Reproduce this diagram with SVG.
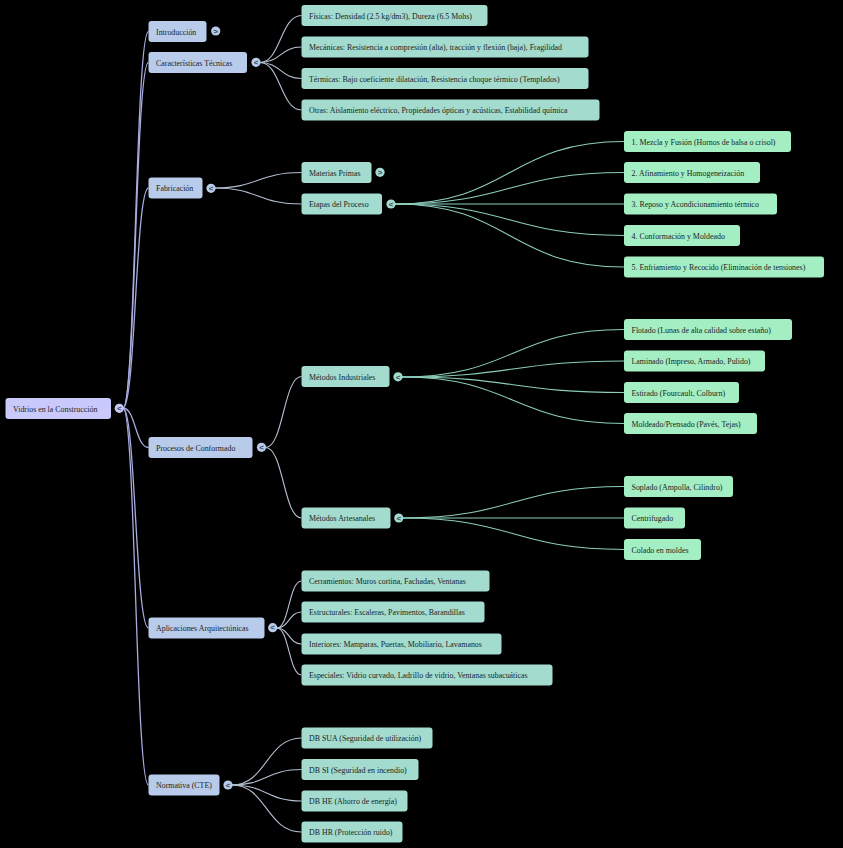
<svg xmlns="http://www.w3.org/2000/svg" width="843" height="848" viewBox="0 0 843 848">
<style>
.bg{fill:#000}
rect.r0{fill:#c9c9fb}
rect.r1{fill:#b9cbea}
rect.r2{fill:#a3dccf}
rect.r3{fill:#a3efc3}
text{font-family:"Liberation Serif","Times New Roman",serif;font-size:7.9px;fill:#1a2424}
.tg text{font-family:"Liberation Sans",Arial,sans-serif;font-size:8px;font-weight:bold;fill:#3a4a5a;text-anchor:middle}
.l0 path{fill:none;stroke:#a9acdf;stroke-width:1.3}
.l1 path{fill:none;stroke:#b4bfd0;stroke-width:1.1}
.l2 path{fill:none;stroke:#8ccdbb;stroke-width:1.1}
</style>
<rect class="bg" x="0" y="0" width="843" height="848"/>
<g id="connectors">
<g class="l0">
<path d="M123 408 C135.5 408 135.5 31.5 148.5 31.5"/>
<path d="M123 408 C135.5 408 135.5 62.5 148.5 62.5"/>
<path d="M123 408 C135.5 408 135.5 188 148.5 188"/>
<path d="M123 408 C135.5 408 135.5 447.5 148.5 447.5"/>
<path d="M123 408 C135.5 408 135.5 628 148.5 628"/>
<path d="M123 408 C135.5 408 135.5 785 148.5 785"/>
</g>
<g class="l1">
<path d="M260 62.5 C280.5 62.5 280.5 15.5 301.5 15.5"/>
<path d="M260 62.5 C280.5 62.5 280.5 47 301.5 47"/>
<path d="M260 62.5 C280.5 62.5 280.5 78.5 301.5 78.5"/>
<path d="M260 62.5 C280.5 62.5 280.5 110 301.5 110"/>
<path d="M215 188 C258 188 258 172.5 301.5 172.5"/>
<path d="M215 188 C258 188 258 204 301.5 204"/>
<path d="M265.5 447.5 C283.5 447.5 283.5 376.5 301.5 376.5"/>
<path d="M265.5 447.5 C283.5 447.5 283.5 518 301.5 518"/>
<path d="M277 628 C289 628 289 581 301.5 581"/>
<path d="M277 628 C289 628 289 612 301.5 612"/>
<path d="M277 628 C289 628 289 644 301.5 644"/>
<path d="M277 628 C289 628 289 675 301.5 675"/>
<path d="M232 785 C266.5 785 266.5 738 301.5 738"/>
<path d="M232 785 C266.5 785 266.5 769.5 301.5 769.5"/>
<path d="M232 785 C266.5 785 266.5 801 301.5 801"/>
<path d="M232 785 C266.5 785 266.5 832 301.5 832"/>
</g>
<g class="l2">
<path d="M395 204 C509.5 204 509.5 141.5 624 141.5"/>
<path d="M395 204 C509.5 204 509.5 172.5 624 172.5"/>
<path d="M395 204 C509.5 204 509.5 204 624 204"/>
<path d="M395 204 C509.5 204 509.5 235.5 624 235.5"/>
<path d="M395 204 C509.5 204 509.5 267 624 267"/>
<path d="M402 377 C513 377 513 329.5 624 329.5"/>
<path d="M402 377 C513 377 513 361 624 361"/>
<path d="M402 377 C513 377 513 392.5 624 392.5"/>
<path d="M402 377 C513 377 513 423.5 624 423.5"/>
<path d="M403 518 C513.5 518 513.5 486.5 624 486.5"/>
<path d="M403 518 C513.5 518 513.5 518 624 518"/>
<path d="M403 518 C513.5 518 513.5 549.5 624 549.5"/>
</g>
</g>

<g id="root"><rect class="r0" x="5.5" y="398" width="105.5" height="21" rx="3"/><text x="13" y="411.7">Vidrios en la Construcción</text><g class="tg"><circle cx="119.3" cy="408.3" r="4.6" fill="#c9c9fb"/><text x="119.3" y="411">&lt;</text></g></g>

<g id="introduccion"><rect class="r1" x="148.5" y="21" width="58" height="21" rx="3"/><text x="156" y="34.7">Introducción</text><g class="tg"><circle cx="215.7" cy="31" r="4.6" fill="#b9cbea"/><text x="215.7" y="33.7">&gt;</text></g></g>
<g id="caracteristicas"><rect class="r1" x="148.5" y="52" width="98.5" height="21" rx="3"/><text x="156" y="65.7">Características Técnicas</text><g class="tg"><circle cx="256" cy="62.3" r="4.6" fill="#b9cbea"/><text x="256" y="65">&lt;</text></g></g>
<g id="fabricacion"><rect class="r1" x="148.5" y="177.5" width="54" height="21" rx="3"/><text x="156" y="191.2">Fabricación</text><g class="tg"><circle cx="211" cy="188.3" r="4.6" fill="#b9cbea"/><text x="211" y="191">&lt;</text></g></g>
<g id="procesos"><rect class="r1" x="148.5" y="437" width="104" height="21" rx="3"/><text x="156" y="450.7">Procesos de Conformado</text><g class="tg"><circle cx="261.5" cy="447.3" r="4.6" fill="#b9cbea"/><text x="261.5" y="450">&lt;</text></g></g>
<g id="aplicaciones"><rect class="r1" x="148.5" y="617.5" width="116" height="21" rx="3"/><text x="156" y="631.2">Aplicaciones Arquitectónicas</text><g class="tg"><circle cx="272.7" cy="627.7" r="4.6" fill="#b9cbea"/><text x="272.7" y="630.4">&lt;</text></g></g>
<g id="normativa"><rect class="r1" x="148.5" y="774.5" width="71" height="21" rx="3"/><text x="156" y="788.2">Normativa (CTE)</text><g class="tg"><circle cx="228" cy="785" r="4.6" fill="#b9cbea"/><text x="228" y="787.7">&lt;</text></g></g>

<g id="fisicas"><rect class="r2" x="301.5" y="5" width="186" height="21" rx="3"/><text x="309" y="18.7">Físicas: Densidad (2.5 kg/dm3), Dureza (6.5 Mohs)</text></g>
<g id="mecanicas"><rect class="r2" x="301.5" y="36.5" width="287" height="21" rx="3"/><text x="309" y="50.2">Mecánicas: Resistencia a compresión (alta), tracción y flexión (baja), Fragilidad</text></g>
<g id="termicas"><rect class="r2" x="301.5" y="68" width="287" height="21" rx="3"/><text x="309" y="81.7">Térmicas: Bajo coeficiente dilatación, Resistencia choque térmico (Templados)</text></g>
<g id="otras"><rect class="r2" x="301.5" y="99.5" width="298" height="21" rx="3"/><text x="309" y="113.2">Otras: Aislamiento eléctrico, Propiedades ópticas y acústicas, Estabilidad química</text></g>
<g id="materias"><rect class="r2" x="301.5" y="162" width="70" height="21" rx="3"/><text x="309" y="175.7">Materias Primas</text><g class="tg"><circle cx="380" cy="172.3" r="4.6" fill="#a3dccf"/><text x="380" y="175">&gt;</text></g></g>
<g id="etapas"><rect class="r2" x="301.5" y="193.5" width="80.5" height="21" rx="3"/><text x="309" y="207.2">Etapas del Proceso</text><g class="tg"><circle cx="391" cy="204" r="4.6" fill="#a3dccf"/><text x="391" y="206.7">&lt;</text></g></g>
<g id="industriales"><rect class="r2" x="301.5" y="366" width="88" height="21" rx="3"/><text x="309" y="379.7">Métodos Industriales</text><g class="tg"><circle cx="398" cy="376.8" r="4.6" fill="#a3dccf"/><text x="398" y="379.5">&lt;</text></g></g>
<g id="artesanales"><rect class="r2" x="301.5" y="507.5" width="89" height="21" rx="3"/><text x="309" y="521.2">Métodos Artesanales</text><g class="tg"><circle cx="398.8" cy="518" r="4.6" fill="#a3dccf"/><text x="398.8" y="520.7">&lt;</text></g></g>
<g id="cerramientos"><rect class="r2" x="301.5" y="570.5" width="188" height="21" rx="3"/><text x="309" y="584.2">Cerramientos: Muros cortina, Fachadas, Ventanas</text></g>
<g id="estructurales"><rect class="r2" x="301.5" y="601.5" width="183" height="21" rx="3"/><text x="309" y="615.2">Estructurales: Escaleras, Pavimentos, Barandillas</text></g>
<g id="interiores"><rect class="r2" x="301.5" y="633.5" width="200" height="21" rx="3"/><text x="309" y="647.2">Interiores: Mamparas, Puertas, Mobiliario, Lavamanos</text></g>
<g id="especiales"><rect class="r2" x="301.5" y="664.5" width="251" height="21" rx="3"/><text x="309" y="678.2">Especiales: Vidrio curvado, Ladrillo de vidrio, Ventanas subacuáticas</text></g>
<g id="dbsua"><rect class="r2" x="301.5" y="727.5" width="131" height="21" rx="3"/><text x="309" y="741.2">DB SUA (Seguridad de utilización)</text></g>
<g id="dbsi"><rect class="r2" x="301.5" y="759" width="117" height="21" rx="3"/><text x="309" y="772.7">DB SI (Seguridad en incendio)</text></g>
<g id="dbhe"><rect class="r2" x="301.5" y="790.5" width="106" height="21" rx="3"/><text x="309" y="804.2">DB HE (Ahorro de energía)</text></g>
<g id="dbhr"><rect class="r2" x="301.5" y="821.5" width="101" height="21" rx="3"/><text x="309" y="835.2">DB HR (Protección ruido)</text></g>

<g id="etapa1"><rect class="r3" x="624" y="131" width="167" height="21" rx="3"/><text x="631.5" y="144.7">1. Mezcla y Fusión (Hornos de balsa o crisol)</text></g>
<g id="etapa2"><rect class="r3" x="624" y="162" width="136" height="21" rx="3"/><text x="631.5" y="175.7">2. Afinamiento y Homogeneización</text></g>
<g id="etapa3"><rect class="r3" x="624" y="193.5" width="153" height="21" rx="3"/><text x="631.5" y="207.2">3. Reposo y Acondicionamiento térmico</text></g>
<g id="etapa4"><rect class="r3" x="624" y="225" width="116" height="21" rx="3"/><text x="631.5" y="238.7">4. Conformación y Moldeado</text></g>
<g id="etapa5"><rect class="r3" x="624" y="256.5" width="200" height="21" rx="3"/><text x="631.5" y="270.2">5. Enfriamiento y Recocido (Eliminación de tensiones)</text></g>
<g id="flotado"><rect class="r3" x="624" y="319" width="168" height="21" rx="3"/><text x="631.5" y="332.7">Flotado (Lunas de alta calidad sobre estaño)</text></g>
<g id="laminado"><rect class="r3" x="624" y="350.5" width="141" height="21" rx="3"/><text x="631.5" y="364.2">Laminado (Impreso, Armado, Pulido)</text></g>
<g id="estirado"><rect class="r3" x="624" y="382" width="115" height="21" rx="3"/><text x="631.5" y="395.7">Estirado (Fourcault, Colburn)</text></g>
<g id="moldeado"><rect class="r3" x="624" y="413" width="133" height="21" rx="3"/><text x="631.5" y="426.7">Moldeado/Prensado (Pavés, Tejas)</text></g>
<g id="soplado"><rect class="r3" x="624" y="476" width="109" height="21" rx="3"/><text x="631.5" y="489.7">Soplado (Ampolla, Cilindro)</text></g>
<g id="centrifugado"><rect class="r3" x="624" y="507.5" width="61" height="21" rx="3"/><text x="631.5" y="521.2">Centrifugado</text></g>
<g id="colado"><rect class="r3" x="624" y="539" width="77" height="21" rx="3"/><text x="631.5" y="552.7">Colado en moldes</text></g>
</svg>
